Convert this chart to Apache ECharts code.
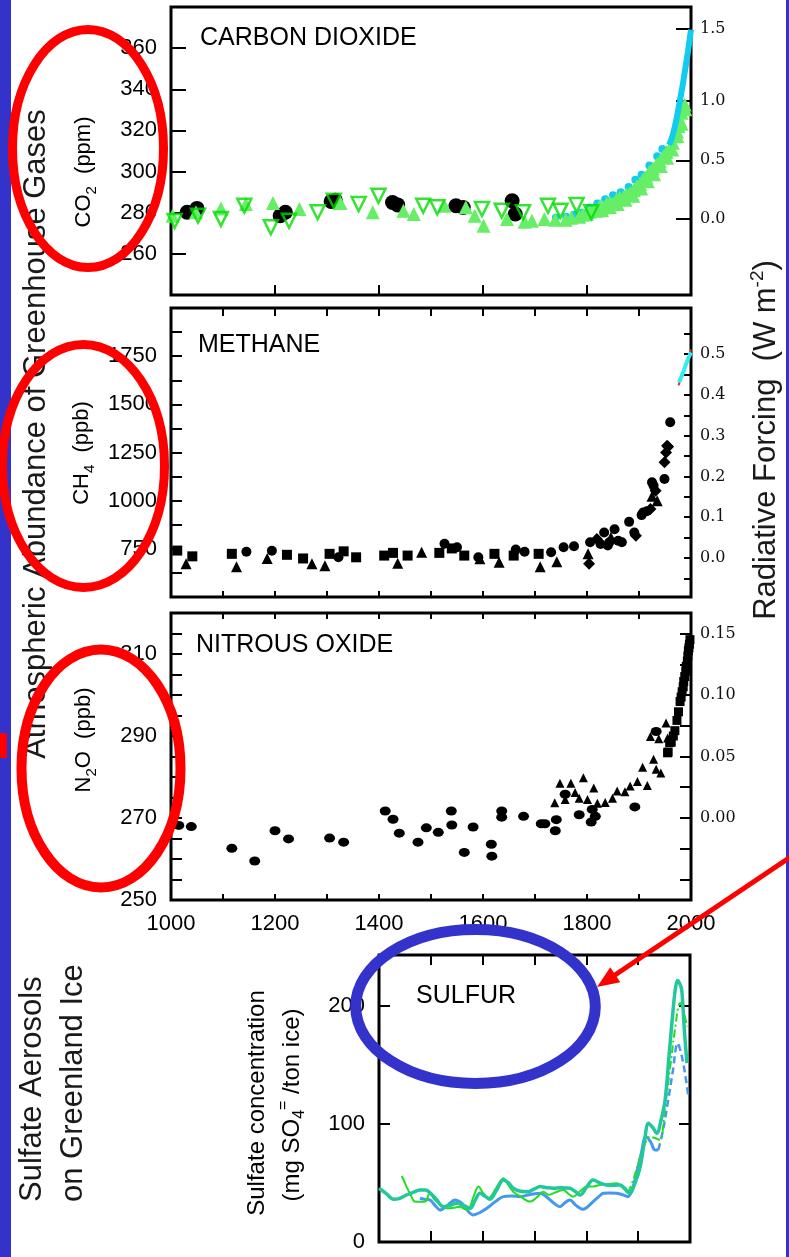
<!DOCTYPE html>
<html><head><meta charset="utf-8">
<script src="https://cdn.jsdelivr.net/npm/echarts@6/dist/echarts.min.js"></script>
<style>html,body{margin:0;padding:0;background:#fff}#c{width:789px;height:1257px}</style>
</head><body><div id="c"></div><script>
// ---------- DATA ----------
const yearLabels = [1000, 1200, 1400, 1600, 1800, 2000];

// CO2 (ppm)
const co2TickLabels = [260, 280, 300, 320, 340, 360];
const co2RfLabels = ['0.0', '0.5', '1.0', '1.5'];
const co2RfAt = [277, 305.5, 334.5, 369.3];
const co2Black = [[1031,280.2],[1050,282.1],[1210,278.5],[1220,280.2],[1308,285.5],[1316,286],[1426,285],[1436,283.8],[1548,283.4],[1562,282.5],[1656,285.8],[1662,279.4]];
const co2TriUp = [[1003,278.5],[1048,280.2],[1096,282],[1144,284.2],[1196,284.7],[1247,281.8],[1326,284.7],[1388,280.2],[1447,281],[1467,279.4],[1526,283.4],[1567,282.6],[1584,278.5],[1601,273.7],[1646,276.9],[1680,275.6],[1694,276.1],[1718,276.9],[1739,276.6],[1759,276.6],[1770,277.5],[1785,278],[1792,279]];
const co2Band = [[1800,279.5],[1805,280.5],[1812,281.5],[1818,281],[1825,283.4],[1832,282.5],[1838,284.5],[1844,285],[1850,284.5],[1857,286.5],[1863,287.4],[1870,287.5],[1876,289],[1883,289.8],[1890,291],[1896,293],[1902,294],[1908,296.3],[1914,297.5],[1921,300.3],[1927,301.5],[1934,303.5],[1940,305],[1947,307.5],[1953,309.5],[1960,311.6],[1965,314],[1969,317.2],[1973,319.5],[1976,322.1],[1979,325],[1982,328.6],[1985,330.5],[1988,332.6]];
const co2BandLow = [[1830,281],[1845,282.5],[1860,284],[1875,286],[1890,288],[1905,291.5],[1918,295],[1930,298.5],[1943,302.5],[1955,306.5],[1965,310.5],[1975,317],[1983,323],[1990,330]];
const co2TriDown = [[1007,276],[1052,278.5],[1096,277],[1141,283.4],[1192,272.9],[1227,276.1],[1282,280.2],[1313,285.8],[1361,284.2],[1399,288.2],[1485,283.4],[1512,282.6],[1598,281.8],[1636,281],[1677,280.2],[1725,283.4],[1749,281],[1780,283.7],[1808,280.2]];
const co2CyanDots = [[1740,277.5],[1760,278],[1775,279],[1790,280],[1805,282.5],[1820,284.5],[1835,286.5],[1850,288.5],[1865,290],[1880,292.5],[1893,296],[1905,298.5],[1920,303],[1935,307.5],[1945,311]];
const co2Mauna = [[1958,313],[1964,317],[1969,322],[1974,328],[1979,335],[1984,342],[1989,350],[1994,358],[2000,369]];

// CH4 (ppb)
const ch4TickLabels = [750, 1000, 1250, 1500, 1750];
const ch4RfLabels = [0, 0.1, 0.2, 0.3, 0.4, 0.5];
const ch4RfTicks = [-0.05, 0, 0.05, 0.1, 0.15, 0.2, 0.25, 0.3, 0.35, 0.4, 0.45, 0.5, 0.55];
const ch4Squares = [[1012,741],[1041,711],[1117,724],[1223,719],[1254,700],[1305,724],[1332,737],[1356,706],[1410,715],[1427,729],[1455,715],[1516,729],[1540,752],[1564,715],[1622,724],[1659,715],[1707,724]];
const ch4Circles = [[1145,735],[1194,740],[1322,706],[1526,776],[1550,758],[1591,706],[1663,746],[1680,735],[1731,732],[1755,758],[1775,763],[1806,784],[1826,775],[1833,835],[1840,767],[1843,784],[1853,852],[1860,792],[1867,784],[1881,890],[1891,835],[1905,925],[1908,939],[1915,945],[1925,1095],[1928,1078],[1949,1112],[1960,1407]];
const ch4Triangles = [[1029,672],[1126,657],[1185,700],[1271,672],[1296,662],[1436,675],[1482,732],[1594,698],[1631,680],[1710,657],[1742,683],[1802,724],[1846,810],[1925,1023],[1935,1000]];
const ch4Diamonds = [[1804,672],[1819,801],[1894,818],[1922,957],[1932,1052],[1949,1199],[1952,1250],[1954,1285],[1956,1280]];
const ch4Cyan = [[1977,1614],[1984,1660],[1990,1705],[1995,1740],[2000,1770]];
const ch4Red = [[1976,1598],[1984,1660],[1990,1705],[1995,1740],[2000,1785]];

// N2O (ppb)
const n2oTickLabels = [250, 270, 290, 310];
const n2oRfLabels = [0, 0.05, 0.1, 0.15];
const n2oRfTicks = [-0.05, -0.025, 0, 0.025, 0.05, 0.075, 0.1, 0.125, 0.15];
const n2oCircles = [[1015,268.2],[1039,267.9],[1117,262.6],[1161,259.5],[1200,266.9],[1226,264.9],[1305,265.1],[1332,264.1],[1412,271.7],[1427,269.7],[1439,266.3],[1475,264.1],[1491,267.6],[1514,266.5],[1539,271.7],[1540,268.3],[1564,261.6],[1581,267.8],[1616,263.6],[1617,260.7],[1636,271.7],[1636,270.2],[1678,270.4],[1712,268.6],[1719,268.6],[1739,266.9],[1741,269.6],[1758,275.8],[1785,270.8],[1810,272.1],[1808,269],[1816,270.4],[1892,272.7],[1933,291.1]];
const n2oTriangles = [[1738,273.7],[1748,278.5],[1758,274.5],[1769,278.5],[1777,276.2],[1785,274.8],[1793,279.8],[1801,274.5],[1813,277.3],[1820,273.6],[1835,273.8],[1849,274.8],[1858,276.6],[1873,276.4],[1883,277.8],[1897,278.9],[1907,282.4],[1916,277.9],[1922,289.9],[1928,284.3],[1933,281.9],[1938,289.3],[1942,281],[1952,293.2],[1955,289.5]];
const n2oSquares = [[1955,285.9],[1956,286.1],[1959,288.4],[1962,288.5],[1966,290],[1969,291.3],[1973,293.8],[1976,295.9],[1979,298.4],[1981,299.5],[1983,300.8],[1985,302],[1986,303.3],[1988,304.5],[1990,305.8],[1991,307],[1993,308.3],[1994,309.5],[1995,310.8],[1996,311.5],[1997,312.4],[1998,313.5]];

// Sulfate (mg SO4 / ton ice)
const sulTickLabels = [0, 100, 200];
const sulTeal = [[1400,45.5],[1414,41],[1428,36.2],[1440,37],[1453,39.8],[1466,42],[1479,44],[1490,44],[1498,41.8],[1511,36],[1524,29.9],[1537,31],[1550,32.8],[1563,31],[1576,28.5],[1585,35],[1595,41.2],[1604,39],[1614,36.2],[1627,44],[1640,52.5],[1650,50],[1659,45.5],[1673,43],[1688,42.6],[1700,45],[1711,46.9],[1724,46],[1736,45.5],[1752,46],[1768,45.5],[1778,43],[1788,39.8],[1800,46],[1813,52.5],[1826,50],[1839,48.3],[1852,48],[1865,48.3],[1875,45],[1884,41.2],[1894,50],[1904,63.8],[1912,85],[1920,100.6],[1928,97],[1936,92.1],[1944,103],[1952,120.3],[1960,160],[1968,199.4],[1972,215],[1976,221.5],[1980,219],[1984,213.6],[1989,180],[1994,151.4]];
const sulGreen = [[1444,55.9],[1448,52],[1453,46.9],[1461,40],[1469,34.2],[1479,34],[1489,34.2],[1498,41.2],[1507,36],[1515,33],[1531,28.5],[1545,29],[1556,29.9],[1565,28],[1572,27.7],[1582,38],[1592,46.9],[1600,42],[1611,37],[1625,45],[1640,54],[1650,48],[1659,42.6],[1675,38],[1691,34.2],[1705,38],[1717,42.6],[1727,40],[1736,41.2],[1746,43],[1756,44],[1765,41],[1775,38.4],[1788,43],[1801,46.9],[1813,47],[1826,48.3],[1842,49],[1858,49.7],[1870,46],[1880,41.2]];
const sulGreenDash = [[1880,41.2],[1890,52],[1900,66],[1912,82],[1923,89.3],[1932,88],[1942,86.4],[1952,115],[1962,148.6],[1971,180],[1981,202.3],[1988,195],[1994,182.5]];
const sulBlue = [[1479,37],[1490,36],[1498,35.6],[1508,31],[1518,27.1],[1532,31],[1547,35.6],[1556,34],[1563,31.4],[1572,26],[1582,22.9],[1595,25],[1608,28.5],[1624,34],[1640,38.4],[1656,39],[1672,38.4],[1690,40],[1711,41.2],[1721,39],[1730,35.6],[1740,32],[1749,29.9],[1758,33],[1768,35.6],[1780,31],[1794,27.7],[1803,30],[1813,34.2],[1823,38],[1833,41.2],[1845,41.5],[1858,41.2],[1870,40],[1880,38.4],[1889,45],[1897,58.2],[1906,75],[1915,89.3],[1925,84],[1932,78],[1939,78]];
const sulBlueDash = [[1939,78],[1948,95],[1958,120.3],[1967,145],[1976,168.4],[1981,163],[1987,151.4],[1992,138],[1997,123]];

// ---------- CHART ----------
const FONT = '"Liberation Sans", Arial, sans-serif';
const RFONT = '"DejaVu Serif", serif';
const chart = echarts.init(document.getElementById('c'), null, {renderer: 'canvas'});

function nearestLabel(arr, labels, v) {
  let bi = 0, bd = Infinity;
  arr.forEach((a, i) => { const d = Math.abs(a - v); if (d < bd) { bd = d; bi = i; } });
  return labels[bi];
}
function gridBox(left, top, width, height) {
  return {left, top, width, height, show: true, borderColor: '#000', borderWidth: 3, backgroundColor: 'rgba(0,0,0,0)', containLabel: false};
}
function xAx(grid, pos, min, max, interval, tickLen, labels) {
  return {type: 'value', gridIndex: grid, position: pos, min, max, interval,
    axisLine: {show: false, onZero: false}, splitLine: {show: false},
    axisTick: {show: true, inside: true, length: tickLen, lineStyle: {color: '#000', width: 2}},
    axisLabel: labels ? {show: true, customValues: labels, formatter: v => String(v), fontSize: 22, fontFamily: FONT, color: '#000', margin: 13} : {show: false}};
}
function yLeft(grid, min, max, interval, tickLen, labels) {
  return {type: 'value', gridIndex: grid, position: 'left', min, max, interval,
    axisLine: {show: false, onZero: false}, splitLine: {show: false},
    axisTick: {show: true, inside: true, length: tickLen, lineStyle: {color: '#000', width: 2}},
    axisLabel: {show: true, customValues: labels, formatter: v => String(v), fontSize: 22, fontFamily: FONT, color: '#000', margin: 14}};
}
function yRight(grid, min, max, ticks, tickLen, labelAt, fmt) {
  return {type: 'value', gridIndex: grid, position: 'right', min, max,
    axisLine: {show: false, onZero: false}, splitLine: {show: false},
    axisTick: {show: true, inside: true, length: tickLen, customValues: ticks, lineStyle: {color: '#000', width: 2}},
    axisLabel: labelAt ? {show: true, customValues: labelAt, formatter: fmt, fontSize: 16, fontFamily: RFONT, color: '#111', margin: 9} : {show: false}};
}
function sc(name, xi, yi, data, symbol, size, color, extra) {
  return Object.assign({name, type: 'scatter', xAxisIndex: xi, yAxisIndex: yi, data, symbol, symbolSize: size,
    itemStyle: {color, opacity: 1}, emphasis: {disabled: true}, silent: true}, extra || {});
}
function ln(name, xi, yi, data, color, width, type, z) {
  return {name, type: 'line', xAxisIndex: xi, yAxisIndex: yi, data, showSymbol: false, symbol: 'none', smooth: 0.35,
    lineStyle: {color, width, type: type || 'solid'}, z: z || 3, silent: true};
}

const option = {
  animation: false,
  backgroundColor: '#fff',
  grid: [gridBox(171, 7, 520, 288), gridBox(171, 308, 520, 289), gridBox(171, 613, 520, 287), gridBox(379, 955, 311, 287)],
  xAxis: [
    xAx(0, 'bottom', 1000, 2000, 200, 10),
    xAx(1, 'bottom', 1000, 2000, 100, 6),
    xAx(1, 'top', 1000, 2000, 100, 8),
    xAx(2, 'bottom', 1000, 2000, 100, 6, yearLabels),
    xAx(2, 'top', 1000, 2000, 100, 6),
    xAx(3, 'bottom', 1400, 2000, 100, 11),
    xAx(3, 'top', 1400, 2000, 100, 10)
  ],
  yAxis: [
    yLeft(0, 240, 380, 20, 15, co2TickLabels),
    yRight(0, 240, 380, co2RfAt, 15, co2RfAt, v => nearestLabel(co2RfAt, co2RfLabels, v)),
    yLeft(1, 500, 2000, 125, 11, ch4TickLabels),
    yRight(1, -0.096, 0.6135, ch4RfTicks, 7, ch4RfLabels, v => v.toFixed(1)),
    yLeft(2, 250, 320, 5, 11, n2oTickLabels),
    yRight(2, -0.0667, 0.1667, n2oRfTicks, 11, n2oRfLabels, v => v.toFixed(2)),
    yLeft(3, 0, 243, 100, 11, sulTickLabels),
    yRight(3, 0, 243, [100, 200], 11, null)
  ],
  series: [
    // CO2
    sc('co2 black', 0, 0, co2Black, 'circle', 15, '#000'),
    sc('co2 cyan dots', 0, 0, co2CyanDots, 'circle', 8, '#11ccee'),
    sc('co2 tri up', 0, 0, co2TriUp, 'triangle', 14, '#66ee66'),
    sc('co2 band', 0, 0, co2Band, 'triangle', 14, '#66ee66'),
    sc('co2 band low', 0, 0, co2BandLow, 'triangle', 13, '#66ee66'),
    sc('co2 tri down', 0, 0, co2TriDown, 'triangle', 14, 'rgba(0,0,0,0)', {symbolRotate: 180, itemStyle: {color: 'rgba(0,0,0,0)', borderColor: '#00dd00', borderWidth: 2.5}}),
    ln('co2 mauna loa', 0, 0, co2Mauna, '#11ccee', 6, 'solid', 5),
    // CH4
    sc('ch4 squares', 1, 2, ch4Squares, 'rect', 10, '#000'),
    sc('ch4 circles', 1, 2, ch4Circles, 'circle', 10, '#000'),
    sc('ch4 triangles', 1, 2, ch4Triangles, 'triangle', 11, '#000'),
    sc('ch4 diamonds', 1, 2, ch4Diamonds, 'diamond', 12, '#000'),
    ln('ch4 red', 1, 2, ch4Red, '#ff2222', 2, 'solid', 4),
    ln('ch4 cyan', 1, 2, ch4Cyan, '#33eeee', 4, 'solid', 5),
    // N2O
    sc('n2o circles', 3, 4, n2oCircles, 'circle', [11, 9], '#000'),
    sc('n2o triangles', 3, 4, n2oTriangles, 'triangle', 9, '#000'),
    sc('n2o squares', 3, 4, n2oSquares, 'rect', 9, '#000'),
    // Sulfate
    ln('sul blue', 5, 6, sulBlue, '#4499ee', 3),
    ln('sul blue dash', 5, 6, sulBlueDash, '#4499ee', 2.5, [7, 4]),
    ln('sul green', 5, 6, sulGreen, '#22dd22', 2),
    ln('sul green dash', 5, 6, sulGreenDash, '#22dd22', 2, [8, 3, 2, 3]),
    ln('sul teal', 5, 6, sulTeal, '#22c89c', 3.5)
  ],
  graphic: [
    {type: 'rect', shape: {x: 0, y: 0, width: 11, height: 1257}, style: {fill: '#3333cc'}, z: 100},
    {type: 'rect', shape: {x: 786, y: 0, width: 3, height: 1257}, style: {fill: '#3333cc'}, z: 100},
    {type: 'rect', shape: {x: 0, y: 733, width: 7, height: 25}, style: {fill: '#ff0000'}, z: 101},
    // panel titles
    {type: 'text', x: 200, y: 38, style: {text: 'CARBON DIOXIDE', font: '25px ' + FONT, fill: '#000', verticalAlign: 'middle'}, z: 50},
    {type: 'text', x: 198, y: 345, style: {text: 'METHANE', font: '25px ' + FONT, fill: '#000', verticalAlign: 'middle'}, z: 50},
    {type: 'text', x: 196, y: 645, style: {text: 'NITROUS OXIDE', font: '25px ' + FONT, fill: '#000', verticalAlign: 'middle'}, z: 50},
    {type: 'text', x: 416, y: 996, style: {text: 'SULFUR', font: '25px ' + FONT, fill: '#000', verticalAlign: 'middle'}, z: 50},
    // rotated axis titles
    {type: 'text', x: 36, y: 434, rotation: Math.PI / 2, style: {text: 'Atmospheric Abundance of Greenhouse Gases', font: '31px ' + FONT, fill: '#1a1a1a', align: 'center', verticalAlign: 'middle'}, z: 50},
    {type: 'text', x: 766, y: 440, rotation: Math.PI / 2, style: {text: '{a|Radiative Forcing  (W m}{p|-2}{a|)}', align: 'center', verticalAlign: 'middle',
      rich: {a: {fontSize: 31, fontFamily: FONT, fill: '#1a1a1a', lineHeight: 36}, p: {fontSize: 19, fontFamily: FONT, fill: '#1a1a1a', verticalAlign: 'top', lineHeight: 36}}}, z: 50},
    {type: 'text', x: 84, y: 172, rotation: Math.PI / 2, style: {text: '{a|CO}{s|2}{a|  (ppm)}', align: 'center', verticalAlign: 'middle',
      rich: {a: {fontSize: 22, fontFamily: FONT, fill: '#000', lineHeight: 30}, s: {fontSize: 15, fontFamily: FONT, fill: '#000', verticalAlign: 'bottom', lineHeight: 30}}}, z: 50},
    {type: 'text', x: 82, y: 453, rotation: Math.PI / 2, style: {text: '{a|CH}{s|4}{a|  (ppb)}', align: 'center', verticalAlign: 'middle',
      rich: {a: {fontSize: 22, fontFamily: FONT, fill: '#000', lineHeight: 30}, s: {fontSize: 15, fontFamily: FONT, fill: '#000', verticalAlign: 'bottom', lineHeight: 30}}}, z: 50},
    {type: 'text', x: 84, y: 740, rotation: Math.PI / 2, style: {text: '{a|N}{s|2}{a|O  (ppb)}', align: 'center', verticalAlign: 'middle',
      rich: {a: {fontSize: 22, fontFamily: FONT, fill: '#000', lineHeight: 30}, s: {fontSize: 15, fontFamily: FONT, fill: '#000', verticalAlign: 'bottom', lineHeight: 30}}}, z: 50},
    {type: 'text', x: 32, y: 1202, rotation: Math.PI / 2, style: {text: 'Sulfate Aerosols', font: '31px ' + FONT, fill: '#1a1a1a', align: 'left', verticalAlign: 'middle'}, z: 50},
    {type: 'text', x: 73, y: 1202, rotation: Math.PI / 2, style: {text: 'on Greenland Ice', font: '31px ' + FONT, fill: '#1a1a1a', align: 'left', verticalAlign: 'middle'}, z: 50},
    {type: 'text', x: 257, y: 1103, rotation: Math.PI / 2, style: {text: 'Sulfate concentration', font: '24px ' + FONT, fill: '#000', align: 'center', verticalAlign: 'middle'}, z: 50},
    {type: 'text', x: 292, y: 1105, rotation: Math.PI / 2, style: {text: '{a|(mg SO}{s|4}{p|=}{a| /ton ice)}', align: 'center', verticalAlign: 'middle',
      rich: {a: {fontSize: 24, fontFamily: FONT, fill: '#000', lineHeight: 32}, s: {fontSize: 16, fontFamily: FONT, fill: '#000', verticalAlign: 'bottom', lineHeight: 32}, p: {fontSize: 16, fontFamily: FONT, fill: '#000', verticalAlign: 'top', lineHeight: 32}}}, z: 50},
    // annotation ellipses
    {type: 'ellipse', shape: {cx: 88, cy: 148.5, rx: 75.5, ry: 119}, style: {fill: 'none', stroke: '#ff0000', lineWidth: 9}, z: 120},
    {type: 'ellipse', shape: {cx: 83.5, cy: 466, rx: 81, ry: 121.5}, style: {fill: 'none', stroke: '#ff0000', lineWidth: 9}, z: 120},
    {type: 'ellipse', shape: {cx: 101, cy: 768.5, rx: 79.5, ry: 119}, style: {fill: 'none', stroke: '#ff0000', lineWidth: 10}, z: 120},
    {type: 'ellipse', shape: {cx: 475.5, cy: 1006.5, rx: 119.8, ry: 77}, style: {fill: 'none', stroke: '#3333cc', lineWidth: 11}, z: 120},
    // red arrow
    {type: 'line', shape: {x1: 792, y1: 856, x2: 612, y2: 977}, style: {stroke: '#ff0000', lineWidth: 5}, z: 121},
    {type: 'polygon', shape: {points: [[597, 987], [620.3, 982.3], [610.3, 967.3]]}, style: {fill: '#ff0000'}, z: 121}
  ]
};
chart.setOption(option);
</script></body></html>
